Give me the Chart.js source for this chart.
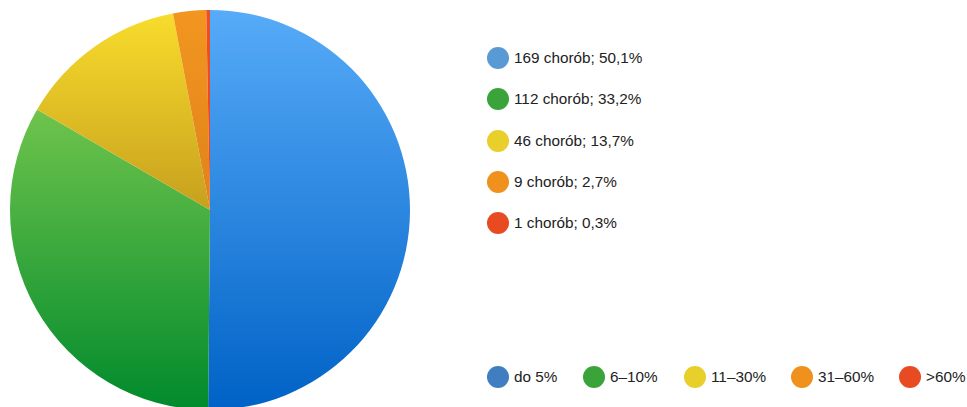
<!DOCTYPE html>
<html>
<head>
<meta charset="utf-8">
<script src="https://cdn.jsdelivr.net/npm/chart.js@4"></script>
<style>
html,body{margin:0;padding:0;width:967px;height:407px;overflow:hidden;background:#fff;font-family:"Liberation Sans",Arial,sans-serif;}
#wrap{position:absolute;left:0;top:0;width:420px;height:420px;}
.item{position:absolute;display:flex;align-items:center;font-size:15.3px;color:#222;white-space:nowrap;}
.dot{width:22px;height:22px;border-radius:50%;margin-right:5px;flex:none;}
</style>
</head>
<body>
<div id="wrap"><canvas id="c" width="420" height="420"></canvas></div>
<div id="legend1"></div>
<div id="legend2"></div>
<script>
// Data
const counts = [169, 112, 46, 9, 1];
const percents = ['50,1', '33,2', '13,7', '2,7', '0,3'];
const categories = ['do 5%', '6–10%', '11–30%', '31–60%', '>60%'];
const unit = 'chorób';

// Styles
const gradTop = ['#57abf8', '#6fc44c', '#f8dc2c', '#f29620', '#f04e24'];
const gradBottom = ['#0062c6', '#008a2c', '#c7a01e', '#e0821a', '#e44420'];
const legendColors1 = ['#5a9ad4', '#3aa43a', '#e8cf2a', '#ef911c', '#e84a22'];
const legendColors2 = ['#3f7ec0', '#3aa43a', '#e8cf2a', '#ef911c', '#e84a22'];
const legend2X = [487, 583, 684, 791, 899];

const total = counts.reduce((a, b) => a + b, 0);

function sliceGradient(ctx) {
  const chart = ctx.chart;
  const area = chart.chartArea;
  const i = ctx.dataIndex;
  if (!area) return gradTop[i];
  const cx = (area.left + area.right) / 2;
  const cy = (area.top + area.bottom) / 2;
  const r = Math.min(area.right - area.left, area.bottom - area.top) / 2;
  let cum = 0;
  for (let k = 0; k < i; k++) cum += counts[k];
  const a0 = -Math.PI / 2 + cum / total * 2 * Math.PI;
  const a1 = a0 + counts[i] / total * 2 * Math.PI;
  const ys = [cy, cy + r * Math.sin(a0), cy + r * Math.sin(a1)];
  [-Math.PI / 2, Math.PI / 2, 3 * Math.PI / 2].forEach(a => {
    if (a >= a0 && a <= a1) ys.push(cy + r * Math.sin(a));
  });
  const y0 = Math.min(...ys), y1 = Math.max(...ys);
  const g = chart.ctx.createLinearGradient(0, y0, 0, y1 + 0.01);
  g.addColorStop(0, gradTop[i]);
  g.addColorStop(1, gradBottom[i]);
  return g;
}

new Chart(document.getElementById('c'), {
  type: 'pie',
  data: {
    labels: counts.map((c, i) => c + ' ' + unit + '; ' + percents[i] + '%'),
    datasets: [{
      data: counts,
      backgroundColor: sliceGradient,
      borderWidth: 0
    }]
  },
  options: {
    responsive: false,
    animation: false,
    layout: { padding: 10 },
    plugins: { legend: { display: false }, tooltip: { enabled: false } }
  }
});

const l1 = document.getElementById('legend1');
counts.forEach((c, i) => {
  const d = document.createElement('div');
  d.className = 'item';
  d.style.left = '487px';
  d.style.top = (47 + i * 41.3) + 'px';
  d.innerHTML = '<span class="dot" style="background:' + legendColors1[i] + '"></span><span>' +
    c + ' ' + unit + '; ' + percents[i] + '%</span>';
  l1.appendChild(d);
});
const l2 = document.getElementById('legend2');
categories.forEach((cat, i) => {
  const d = document.createElement('div');
  d.className = 'item';
  d.style.left = legend2X[i] + 'px';
  d.style.top = '366px';
  d.innerHTML = '<span class="dot" style="background:' + legendColors2[i] + '"></span><span></span>';
  d.lastChild.textContent = cat;
  l2.appendChild(d);
});
</script>
</body>
</html>
